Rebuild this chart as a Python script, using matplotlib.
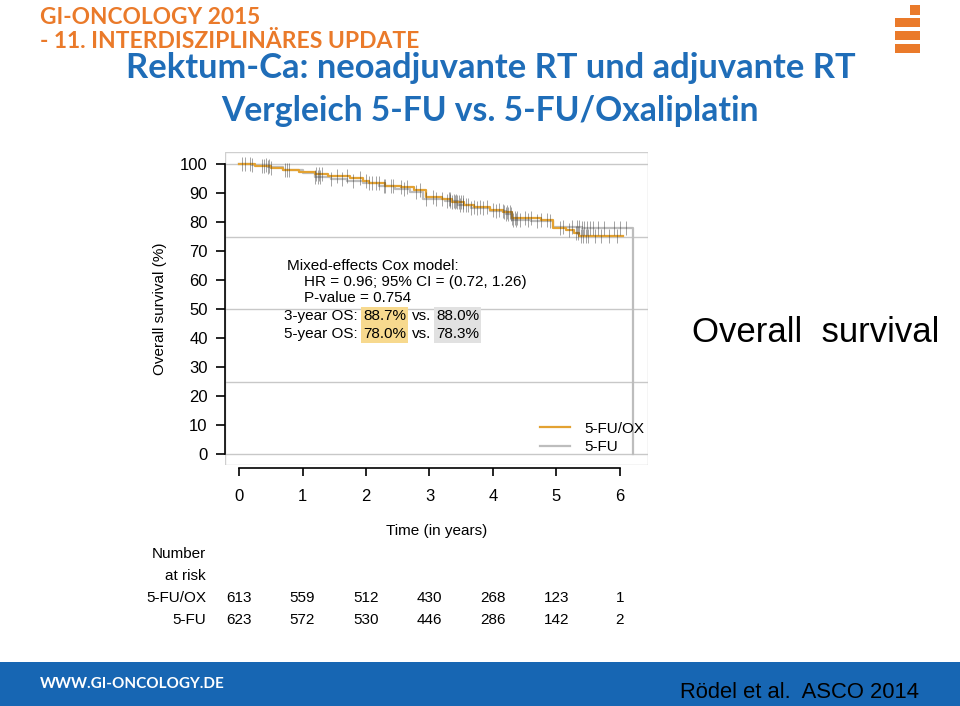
import matplotlib
matplotlib.use("Agg")
from matplotlib import pyplot as plt
from matplotlib.patches import Rectangle
from matplotlib.lines import Line2D
import numpy as np

# Kaplan-Meier step points (years, % survival)
ox_t = [0, 0.25, 0.5, 0.7, 0.95, 1.2, 1.4, 1.75, 1.95, 2.05, 2.3, 2.55, 2.75, 2.95, 3.2, 3.35,
        3.55, 3.7, 3.95, 4.15, 4.3, 4.75, 4.95, 5.15, 5.28, 5.35, 6.05]
ox_s = [100, 99.4, 98.6, 97.9, 97.4, 96.4, 95.9, 95.3, 94.0, 93.4, 92.5, 91.9, 91.0, 88.7, 88.0, 87.0,
        86.0, 85.3, 84.3, 83.6, 81.5, 80.6, 78.0, 77.2, 76.3, 75.2, 75.2]
fu_t = [0, 0.2, 0.45, 0.7, 1.0, 1.2, 1.45, 1.7, 1.95, 2.2, 2.45, 2.7, 2.9, 3.25, 3.45, 3.65,
        3.95, 4.2, 4.3, 4.6, 4.95, 5.4, 6.2, 6.2]
fu_s = [100, 99.5, 98.8, 98.0, 97.0, 95.6, 94.8, 94.2, 93.3, 92.3, 91.3, 90.2, 88.0, 87.2, 86.0, 84.8,
        83.8, 82.7, 80.8, 80.2, 78.3, 78.0, 78.0, 0]

# censoring times
ox_cens = [0.04, 0.18, 0.36, 0.4, 0.48, 0.5, 0.75, 0.78, 1.22, 1.26, 1.3, 1.55, 1.7, 1.9, 2.0, 2.1,
           2.2, 2.3, 2.4, 2.55, 2.65, 2.85, 3.05, 3.2, 3.3, 3.33, 3.36, 3.4, 3.43, 3.46, 3.5, 3.53,
           3.6, 3.7, 3.8, 3.9, 4.0, 4.1, 4.18, 4.22, 4.26, 4.3, 4.34, 4.38, 4.5, 4.6, 4.75, 4.85,
           5.05, 5.2, 5.3, 5.34, 5.38, 5.42, 5.46, 5.5, 5.6, 5.7, 5.82, 5.95]
fu_cens = [0.1, 0.2, 0.42, 0.45, 0.72, 1.2, 1.24, 1.28, 1.45, 1.62, 1.8, 2.05, 2.15, 2.28, 2.42, 2.6,
           2.78, 2.95, 3.1, 3.28, 3.32, 3.38, 3.42, 3.48, 3.52, 3.57, 3.65, 3.75, 3.85, 4.05, 4.15,
           4.2, 4.24, 4.28, 4.32, 4.36, 4.42, 4.55, 4.7, 4.9, 5.1, 5.25, 5.32, 5.36, 5.4, 5.44,
           5.48, 5.52, 5.58, 5.65, 5.75, 5.9, 6.0, 6.1]

years = [0, 1, 2, 3, 4, 5, 6]
risk_ox = [613, 559, 512, 430, 268, 123, 1]
risk_fu = [623, 572, 530, 446, 286, 142, 2]
groups = ["5-FU/OX", "5-FU"]

ORANGE = "#e3a232"
GRAY = "#bdbdbd"
BLUE = "#1f6db8"
HEAD = "#ea7a2a"
W, H = 960, 706

plt.rcParams['font.family'] = ['Liberation Sans', 'DejaVu Sans']


def fx(x):
    return x / W


def fy(y):
    return 1 - y / H


def step_value(t_list, s_list, t):
    idx = np.searchsorted(t_list, t, side='right') - 1
    return s_list[idx]


fig = plt.figure(figsize=(W / 100, H / 100), dpi=100)
ax = fig.add_axes([fx(225), fy(465), (648 - 225) / W, (465 - 152) / H])
ax.set_xlim(-0.2205, 6.441)
ax.set_ylim(-3.79, 104.14)

# light frame and grid
ax.add_patch(Rectangle((0, 0), 1, 1, transform=ax.transAxes, fill=False, ec="#cfcfcf", lw=1, zorder=0))
for g in [0, 25, 50, 75, 100]:
    ax.axhline(g, color="#c8c8c8", lw=1, zorder=0)

ax.step(fu_t, fu_s, where='post', color=GRAY, lw=1.6, zorder=2)
ax.step(ox_t, ox_s, where='post', color=ORANGE, lw=1.6, zorder=3)

fu_cy = [step_value(fu_t[:-1], fu_s[:-1], t) for t in fu_cens]
ox_cy = [step_value(ox_t, ox_s, t) for t in ox_cens]
ax.plot(fu_cens, fu_cy, ls='none', marker='|', ms=10, mew=0.7, color="#333333", alpha=0.45, zorder=4)
ax.plot(ox_cens, ox_cy, ls='none', marker='|', ms=10, mew=0.7, color="#333333", alpha=0.45, zorder=4)

for s in ['top', 'right']:
    ax.spines[s].set_visible(False)
ax.spines['left'].set_bounds(0, 100)
ax.spines['bottom'].set_bounds(0, 6)
ax.spines['bottom'].set_position(('outward', 2))
ax.spines['left'].set_linewidth(1.2)
ax.spines['bottom'].set_linewidth(1.2)
ax.set_yticks(range(0, 101, 10))
ax.set_xticks(years)
ax.tick_params(axis='y', length=6.5, width=1.2, pad=6, labelsize=12)
ax.tick_params(axis='x', length=6, width=1.2, pad=9, labelsize=12)
ax.set_ylabel("Overall survival (%)", fontsize=11, labelpad=9)
fig.text(fx(437), fy(531), "Time (in years)", fontsize=11, ha='center', va='center')

legend_handles = [Line2D([], [], color=ORANGE, lw=1.6), Line2D([], [], color=GRAY, lw=1.6)]
fig.legend(legend_handles, groups, loc='center left', bbox_to_anchor=(fx(526), fy(438)),
           frameon=False, fontsize=11, handlelength=2.0, handletextpad=0.9, labelspacing=0.3)

# model annotation
fs = 11
fig.text(fx(287), fy(266), "Mixed-effects Cox model:", fontsize=fs, va='center')
fig.text(fx(304), fy(282), "HR = 0.96; 95% CI = (0.72, 1.26)", fontsize=fs, va='center')
fig.text(fx(304), fy(298), "P-value = 0.754", fontsize=fs, va='center')
os_rows = [("3-year OS:", "88.7%", "88.0%", 316), ("5-year OS:", "78.0%", "78.3%", 334)]
for lab, a, b, y in os_rows:
    fig.text(fx(284), fy(y), lab, fontsize=fs, va='center')
    fig.text(fx(363), fy(y), a, fontsize=fs, va='center',
             bbox=dict(boxstyle='square,pad=0.12', fc="#f7d98e", ec='none'))
    fig.text(fx(412), fy(y), "vs.", fontsize=fs, va='center')
    fig.text(fx(436), fy(y), b, fontsize=fs, va='center',
             bbox=dict(boxstyle='square,pad=0.12', fc="#e1e1e1", ec='none'))

# number at risk table
x0, x6 = 239, 620
fig.text(fx(206), fy(554), "Number", fontsize=11, ha='right', va='center')
fig.text(fx(206), fy(576), "at risk", fontsize=11, ha='right', va='center')
for name, vals, y in [(groups[0], risk_ox, 598), (groups[1], risk_fu, 620)]:
    fig.text(fx(206), fy(y), name, fontsize=11, ha='right', va='center')
    for yr, v in zip(years, vals):
        fig.text(fx(x0 + (x6 - x0) * yr / 6), fy(y), str(v), fontsize=11, ha='center', va='center')

fig.text(fx(816), fy(333), "Overall  survival", fontsize=25, ha='center', va='center')

# slide header
fig.text(fx(40), fy(17), "GI-ONCOLOGY 2015", family='Lato', weight='bold', fontsize=16.3,
         color=HEAD, va='center')
fig.text(fx(40), fy(41), "- 11. INTERDISZIPLINÄRES UPDATE", family='Lato', weight='bold', fontsize=16.5,
         color=HEAD, va='center')
fig.text(fx(491), fy(68), "Rektum-Ca: neoadjuvante RT und adjuvante RT", family='Lato', weight='bold',
         fontsize=24.8, color=BLUE, ha='center', va='center')
fig.text(fx(490), fy(111), "Vergleich 5-FU vs. 5-FU/Oxaliplatin", family='Lato', weight='bold',
         fontsize=24.2, color=BLUE, ha='center', va='center')

# logo blocks
for (lx, ly, lw_, lh) in [(910, 5, 10, 10), (895, 18, 25, 9), (895, 31, 25, 9), (895, 44, 25, 9)]:
    fig.patches.append(Rectangle((fx(lx), fy(ly + lh)), lw_ / W, lh / H, transform=fig.transFigure,
                                 fc=HEAD, ec='none'))

# footer bar
fig.patches.append(Rectangle((0, 0), 1, 44 / H, transform=fig.transFigure, fc="#1766b3", ec='none'))
fig.text(fx(40), fy(684), "WWW.GI-ONCOLOGY.DE", family='Lato', weight='bold', fontsize=11,
         color='white', va='center')
fig.text(fx(800), fy(693), "Rödel et al.  ASCO 2014", fontsize=15.8, color='black', ha='center', va='center')

fig.savefig("out.png", dpi=100)
